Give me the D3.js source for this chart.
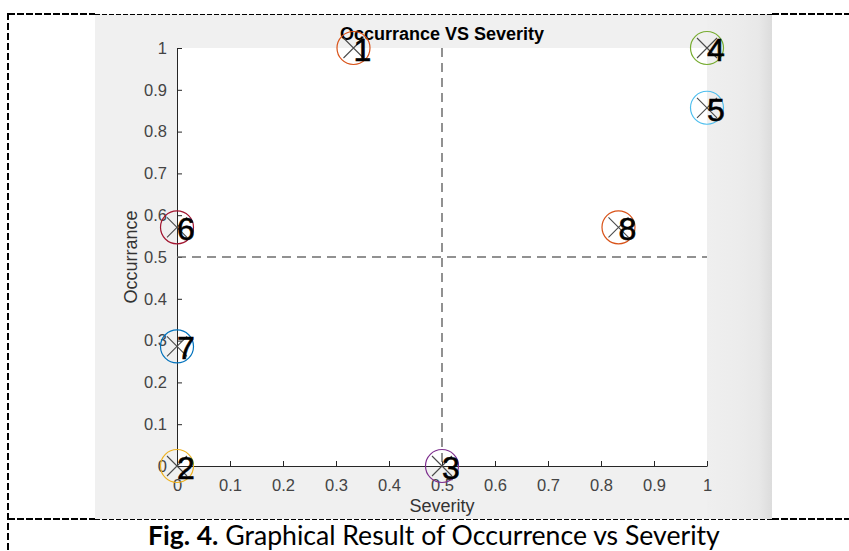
<!DOCTYPE html>
<html>
<head>
<meta charset="utf-8">
<script src="https://cdn.jsdelivr.net/npm/d3@7"></script>
<style>
  html, body { margin: 0; padding: 0; background: #ffffff; }
  svg { display: block; }
</style>
</head>
<body>
<svg id="chart" width="849" height="551"></svg>
<script>
// ---- data ----
const pointLabels = ["1", "2", "3", "4", "5", "6", "7", "8"];
const severity   = [0.333, 0, 0.5, 1, 1, 0, 0, 0.833];
const occurrence = [1, 0, 0, 1, 0.857, 0.571, 0.286, 0.571];
const xTicks = [0, 0.1, 0.2, 0.3, 0.4, 0.5, 0.6, 0.7, 0.8, 0.9, 1];
const yTicks = [0, 0.1, 0.2, 0.3, 0.4, 0.5, 0.6, 0.7, 0.8, 0.9, 1];
const xTickLabels = ["0", "0.1", "0.2", "0.3", "0.4", "0.5", "0.6", "0.7", "0.8", "0.9", "1"];
const yTickLabels = ["0", "0.1", "0.2", "0.3", "0.4", "0.5", "0.6", "0.7", "0.8", "0.9", "1"];
const thresholdX = [0.5];
const thresholdY = [0.5];
const palette = ["#D95319", "#EDB120", "#7E2F8E", "#77AC30", "#4DBEEE", "#A2142F", "#0072BD", "#D95319"];
const chartTitle = "Occurrance VS Severity";
const xLabel = "Severity";
const yLabel = "Occurrance";

// ---- layout ----
const svg = d3.select("#chart");
const plot = { left: 177, right: 707, top: 48, bottom: 466 };
const x = d3.scaleLinear().domain([0, 1]).range([plot.left, plot.right]);
const y = d3.scaleLinear().domain([0, 1]).range([plot.bottom, plot.top]);
const FONT = "'Liberation Sans', Arial, Helvetica, sans-serif";

// gradient for figure shadow
const defs = svg.append("defs");
const grad = defs.append("linearGradient").attr("id", "shade").attr("x1", "0").attr("x2", "1").attr("y1", "0").attr("y2", "0");
grad.append("stop").attr("offset", "0").attr("stop-color", "#efefef");
grad.append("stop").attr("offset", "0.5").attr("stop-color", "#ececec");
grad.append("stop").attr("offset", "0.8").attr("stop-color", "#e8e8e8");
grad.append("stop").attr("offset", "1").attr("stop-color", "#dcdcdc");

// figure background (grey) and shaded strip
svg.append("rect").attr("x", 95).attr("y", 14).attr("width", 677).attr("height", 505).attr("fill", "#f0f0f0");
svg.append("rect").attr("x", 707).attr("y", 14).attr("width", 65).attr("height", 505).attr("fill", "url(#shade)");
// plot area
svg.append("rect").attr("x", plot.left).attr("y", plot.top)
  .attr("width", plot.right - plot.left).attr("height", plot.bottom - plot.top).attr("fill", "#ffffff");

// frame (dashed)
const frame = svg.append("g").attr("fill", "none").attr("stroke", "#000");
frame.append("line").attr("x1", 8).attr("y1", 14).attr("x2", 95).attr("y2", 14).attr("stroke-width", 2).attr("stroke-dasharray", "7,2");
frame.append("line").attr("x1", 772).attr("y1", 14).attr("x2", 849).attr("y2", 14).attr("stroke-width", 2).attr("stroke-dasharray", "7,2");
frame.append("line").attr("x1", 8).attr("y1", 519).attr("x2", 95).attr("y2", 519).attr("stroke-width", 2).attr("stroke-dasharray", "7,2");
frame.append("line").attr("x1", 772).attr("y1", 519).attr("x2", 849).attr("y2", 519).attr("stroke-width", 2).attr("stroke-dasharray", "7,2");
frame.append("line").attr("x1", 8).attr("y1", 13).attr("x2", 8).attr("y2", 551).attr("stroke-width", 2).attr("stroke-dasharray", "7,3");
frame.append("line").attr("x1", 95).attr("y1", 14.5).attr("x2", 772).attr("y2", 14.5).attr("stroke-width", 1).attr("stroke-dasharray", "5,2");
frame.append("line").attr("x1", 95).attr("y1", 519.5).attr("x2", 772).attr("y2", 519.5).attr("stroke-width", 1).attr("stroke-dasharray", "5,2");

// axes
const xAxis = d3.axisBottom(x).tickValues(xTicks).tickFormat((d, i) => xTickLabels[i])
  .tickSizeInner(-5).tickSizeOuter(0).tickPadding(13);
const yAxis = d3.axisLeft(y).tickValues(yTicks).tickFormat((d, i) => yTickLabels[i])
  .tickSizeInner(-5).tickSizeOuter(0).tickPadding(10);

const gx = svg.append("g").attr("transform", `translate(0,${plot.bottom})`).call(xAxis);
const gy = svg.append("g").attr("transform", `translate(${plot.left},0)`).call(yAxis);
[gx, gy].forEach(g => {
  g.attr("font-size", null).attr("font-family", null);
  g.select(".domain").attr("stroke", "#262626").attr("stroke-width", 1);
  g.selectAll(".tick line").attr("stroke", "#262626");
  g.selectAll(".tick text").attr("fill", "#444444").style("font-family", FONT).style("font-size", "16.5px");
});

// threshold dashed lines
svg.selectAll(".vthr").data(thresholdX).join("line").attr("class", "vthr")
  .attr("x1", d => x(d)).attr("x2", d => x(d)).attr("y1", y(1)).attr("y2", y(0))
  .attr("stroke", "#6e6e6e").attr("stroke-width", 1.5).attr("stroke-dasharray", "9,6");
svg.selectAll(".hthr").data(thresholdY).join("line").attr("class", "hthr")
  .attr("x1", x(0)).attr("x2", x(1)).attr("y1", d => y(d)).attr("y2", d => y(d))
  .attr("stroke", "#6e6e6e").attr("stroke-width", 1.5).attr("stroke-dasharray", "9,6");

// title and axis labels
svg.append("text").attr("x", (plot.left + plot.right) / 2).attr("y", 40)
  .attr("text-anchor", "middle").style("font-family", FONT).style("font-size", "18px")
  .style("font-weight", "bold").attr("fill", "#000").text(chartTitle);
svg.append("text").attr("x", (plot.left + plot.right) / 2).attr("y", 512)
  .attr("text-anchor", "middle").style("font-family", FONT).style("font-size", "18px")
  .attr("fill", "#333333").text(xLabel);
svg.append("text").attr("transform", `translate(137,${(plot.top + plot.bottom) / 2}) rotate(-90)`)
  .attr("text-anchor", "middle").style("font-family", FONT).style("font-size", "18px")
  .attr("fill", "#333333").text(yLabel);

// markers
const pts = pointLabels.map((l, i) => ({ label: l, sx: severity[i], oy: occurrence[i], color: palette[i] }));
const mk = svg.append("g").selectAll("g").data(pts).join("g")
  .attr("transform", d => `translate(${x(d.sx)},${y(d.oy)})`);
mk.append("circle").attr("r", 16.5).attr("fill", "none").attr("stroke", d => d.color).attr("stroke-width", 1.2);
mk.append("path").attr("d", "M-10,-10L10,10M-10,10L10,-10").attr("stroke", "#4a4a4a").attr("stroke-width", 1.1).attr("fill", "none");
mk.append("text").attr("x", 0).attr("y", 13).style("font-family", FONT).style("font-size", "32px")
  .attr("fill", "#000").attr("stroke", "#000").attr("stroke-width", 0.6).text(d => d.label);

// caption
const cap = svg.append("text").attr("x", 148).attr("y", 545)
  .style("font-family", "Lato, 'Open Sans', sans-serif").style("font-size", "22px").attr("fill", "#000");
cap.append("tspan").style("font-weight", "bold").text("Fig. 4.");
cap.append("tspan").text(" Graphical Result of Occurrence vs Severity");
const w = cap.node().getComputedTextLength();
const fs = 22 * 572 / w;
cap.style("font-size", fs.toFixed(2) + "px");
</script>
</body>
</html>
